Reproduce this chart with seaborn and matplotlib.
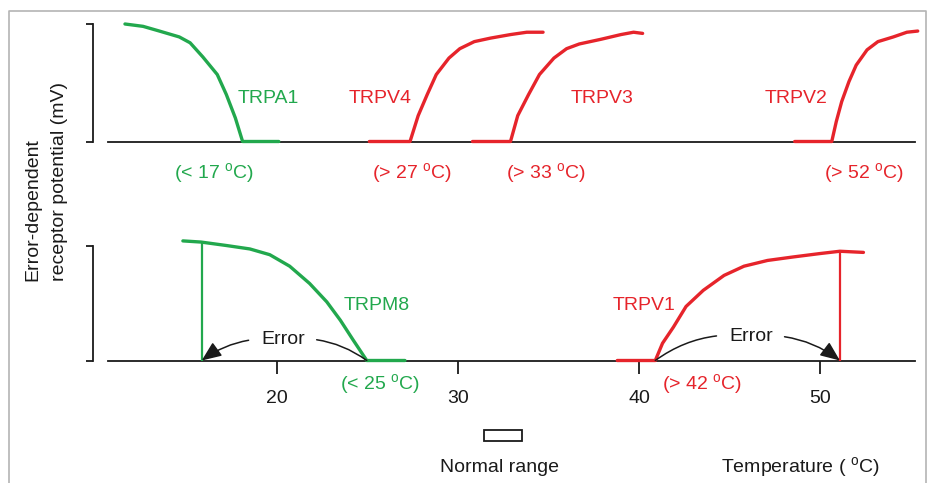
import matplotlib
matplotlib.use("Agg")
import matplotlib.pyplot as plt
import seaborn as sns
from matplotlib.lines import Line2D
from matplotlib.patches import Rectangle

### --- data (temperature in oC, potential normalised 0..1) --- ###
trpa1_t = [11.6, 12.6, 13.5, 14.6, 15.2, 15.9, 16.7, 17.2, 17.7, 18.1, 20.1]
trpa1_v = [1.00, 0.98, 0.94, 0.89, 0.84, 0.72, 0.57, 0.40, 0.20, 0.0, 0.0]

trpv4_t = [25.1, 27.35, 27.8, 28.3, 28.8, 29.5, 30.1, 30.9, 31.8, 32.9, 33.8, 34.7]
trpv4_v = [0.0, 0.0, 0.22, 0.40, 0.57, 0.71, 0.79, 0.85, 0.88, 0.91, 0.93, 0.93]

trpv3_t = [30.8, 32.9, 33.3, 33.9, 34.5, 35.3, 36.0, 36.7, 37.9, 39.0, 39.7, 40.2]
trpv3_v = [0.0, 0.0, 0.22, 0.40, 0.57, 0.71, 0.79, 0.83, 0.87, 0.91, 0.93, 0.92]

trpv2_t = [48.6, 50.65, 50.9, 51.2, 51.6, 52.0, 52.6, 53.2, 54.05, 54.8, 55.4]
trpv2_v = [0.0, 0.0, 0.17, 0.34, 0.51, 0.65, 0.78, 0.85, 0.89, 0.93, 0.94]

trpm8_t = [14.8, 15.8, 17.2, 18.5, 19.6, 20.7, 21.8, 22.75, 23.5, 24.2, 24.96, 27.07]
trpm8_v = [1.04, 1.03, 1.00, 0.97, 0.92, 0.82, 0.67, 0.51, 0.35, 0.18, 0.0, 0.0]

trpv1_t = [38.8, 40.9, 41.3, 41.9, 42.6, 43.55, 44.7, 45.8, 47.1, 48.5, 50.0, 51.1, 52.4]
trpv1_v = [0.0, 0.0, 0.15, 0.29, 0.47, 0.61, 0.74, 0.82, 0.87, 0.90, 0.93, 0.95, 0.94]

# "error" marks: temperature where the vertical line stands and its height
trpm8_error = (15.84, 1.03)
trpv1_error = (51.1, 0.95)

top_names = ["TRPA1", "TRPV4", "TRPV3", "TRPV2"]
top_limits = ["(< 17 $^{\\mathrm{o}}$C)", "(> 27 $^{\\mathrm{o}}$C)",
              "(> 33 $^{\\mathrm{o}}$C)", "(> 52 $^{\\mathrm{o}}$C)"]
bottom_names = ["TRPM8", "TRPV1"]
bottom_limits = ["(< 25 $^{\\mathrm{o}}$C)", "(> 42 $^{\\mathrm{o}}$C)"]

temp_ticks = [20, 30, 40, 50]
axis_span = (10.65, 55.25)
normal_range = (31.45, 33.55)

GREEN = "#22a84d"
RED = "#e6242b"
INK = "#1a1a1a"

sns.set_theme(style="white")
plt.rcParams["font.family"] = ["Liberation Sans", "DejaVu Sans"]
plt.rcParams["mathtext.fontset"] = "custom"
plt.rcParams["mathtext.rm"] = "Liberation Sans"
FS = 14

W, H = 928, 483
fig = plt.figure(figsize=(W / 100, H / 100), dpi=100)

# both panels span the whole width, x = temperature (about 18.1 px per degree)
xlim = (20 - 277 / 18.1, 20 + (W - 277) / 18.1)

ax_t = fig.add_axes([0, 1 - 200 / H, 1, 188 / H])
ax_t.set_ylim((141.5 - 200) / 117.5, (141.5 - 12) / 117.5)
ax_b = fig.add_axes([0, 0, 1, 283 / H])
ax_b.set_ylim((360.5 - 483) / 115, (360.5 - 200) / 115)

for ax in (ax_t, ax_b):
    ax.set_xlim(*xlim)
    ax.patch.set_alpha(0)
    ax.spines["top"].set_visible(False)
    ax.spines["right"].set_visible(False)
    ax.spines["bottom"].set_position(("data", 0))
    ax.spines["bottom"].set_bounds(*axis_span)
    ax.spines["left"].set_position(("data", 9.85))
    ax.spines["left"].set_bounds(0, 1)
    for s in ("bottom", "left"):
        ax.spines[s].set_color(INK)
        ax.spines[s].set_linewidth(1.3)
    ax.set_yticks([0, 1])
    ax.set_yticklabels([])
    ax.tick_params(axis="y", left=True, direction="out", length=5.3, width=1.3, color=INK)

ax_t.set_xticks([])
ax_b.set_xticks(temp_ticks)
ax_b.set_xticklabels([str(t) for t in temp_ticks])
ax_b.tick_params(axis="x", bottom=True, direction="out", length=9.5, width=1.3,
                 color=INK, pad=12, labelsize=FS, labelcolor=INK)

### --- curves --- ###
curves_top = [(trpa1_t, trpa1_v, GREEN), (trpv4_t, trpv4_v, RED),
              (trpv3_t, trpv3_v, RED), (trpv2_t, trpv2_v, RED)]
for t, v, c in curves_top:
    sns.lineplot(x=t, y=v, ax=ax_t, color=c, lw=2.4, sort=False, estimator=None, zorder=3)

curves_bottom = [(trpm8_t, trpm8_v, GREEN), (trpv1_t, trpv1_v, RED)]
for t, v, c in curves_bottom:
    sns.lineplot(x=t, y=v, ax=ax_b, color=c, lw=2.4, sort=False, estimator=None, zorder=3)

ax_b.vlines(trpm8_error[0], 0, trpm8_error[1], color=GREEN, lw=1.6, zorder=3)
ax_b.vlines(trpv1_error[0], 0, trpv1_error[1], color=RED, lw=1.6, zorder=3)

### --- labels --- ###
name_x = [19.5, 25.7, 37.95, 48.7]
limit_x = [16.55, 27.45, 34.85, 52.45]
for i in range(4):
    c = GREEN if i == 0 else RED
    ax_t.text(name_x[i], 0.37, top_names[i], color=c, fontsize=FS, ha="center", va="center")
    ax_t.text(limit_x[i], -0.27, top_limits[i], color=c, fontsize=FS, ha="center", va="center")

ax_b.text(25.5, 0.48, bottom_names[0], color=GREEN, fontsize=FS, ha="center", va="center")
ax_b.text(40.3, 0.48, bottom_names[1], color=RED, fontsize=FS, ha="center", va="center")
ax_b.text(25.7, -0.21, bottom_limits[0], color=GREEN, fontsize=FS, ha="center", va="center")
ax_b.text(43.5, -0.21, bottom_limits[1], color=RED, fontsize=FS, ha="center", va="center")

# error arrows: left one points at the TRPM8 line, right one at the TRPV1 line
head = "-|>,head_length=0.6,head_width=0.25"
err_marks = [((20.35, 0.18), trpm8_error[0], trpm8_t[-2], True),
             ((46.2, 0.21), trpv1_t[1], trpv1_error[0], False)]
for (tx, ty), left_end, right_end, head_left in err_marks:
    ax_b.text(tx, ty, "Error", fontsize=FS, color=INK, ha="center", va="center")
    ax_b.annotate("", xy=(left_end, 0), xytext=(tx, ty),
                  arrowprops=dict(arrowstyle=head if head_left else "-",
                                  connectionstyle="arc3,rad=0.2", color=INK,
                                  lw=1.1, shrinkA=25, shrinkB=0, mutation_scale=20))
    ax_b.annotate("", xy=(right_end, 0), xytext=(tx, ty),
                  arrowprops=dict(arrowstyle="-" if head_left else head,
                                  connectionstyle="arc3,rad=-0.2", color=INK,
                                  lw=1.1, shrinkA=24, shrinkB=0, mutation_scale=20))

# normal range box
ax_b.add_patch(Rectangle((normal_range[0], -0.70), normal_range[1] - normal_range[0], 0.10,
                         fill=False, ec=INK, lw=1.3, clip_on=False))
ax_b.text(32.3, -0.93, "Normal range", fontsize=FS, color=INK, ha="center", va="center")
ax_b.text(48.9, -0.93, "Temperature ( $^{\\mathrm{o}}$C)", fontsize=FS, color=INK,
          ha="center", va="center")

fig.text(46 / W, 1 - 281 / H, "Error-dependent\nreceptor potential (mV)", rotation=90,
         ha="center", va="bottom", multialignment="left", fontsize=FS, color=INK,
         linespacing=1.7)

# grey frame round the picture
fig.add_artist(Line2D([9.5 / W, 9.5 / W, 926 / W, 926 / W],
                      [0, 1 - 10.5 / H, 1 - 10.5 / H, 0],
                      transform=fig.transFigure, color="#b4b4b4", lw=1.2))

fig.savefig("out.png", dpi=100)
